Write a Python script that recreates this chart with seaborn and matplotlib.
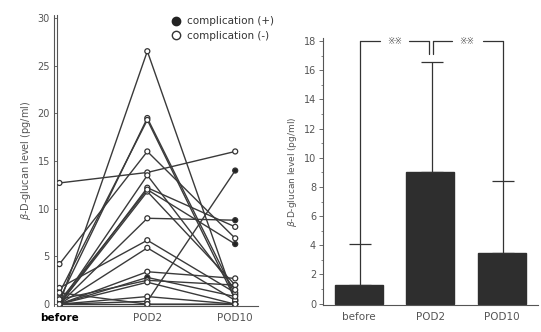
import matplotlib

matplotlib.use("Agg")
import matplotlib.pyplot as plt
import numpy as np
import pandas as pd
import seaborn as sns
from matplotlib.lines import Line2D
from matplotlib.ticker import MultipleLocator

# Individual patients
timepoints = ["before", "POD2", "POD10"]
before = [0.0, 0.5, 1.2, 4.2, 12.7, 0.0, 0.0, 0.3, 0.0, 1.7, 0.0, 0.0, 0.0, 0.5, 0.0, 0.0, 0.0, 0.0, 1.2, 0.0]
pod2 = [26.5, 19.5, 19.3, 16.0, 13.8, 12.2, 11.8, 12.0, 9.0, 6.7, 5.9, 3.4, 2.8, 2.5, 2.3, 0.8, 0.3, 0.0, 0.0, 13.5]
pod10 = [0.3, 1.0, 0.5, 6.9, 16.0, 8.1, 2.0, 6.3, 8.8, 1.2, 0.4, 2.7, 0.8, 2.0, 0.0, 0.0, 14.0, 0.0, 0.0, 1.5]
filled_pod2 = [0, 0, 0, 0, 0, 0, 0, 0, 0, 0, 0, 0, 1, 0, 0, 0, 0, 0, 0, 0]
filled_pod10 = [0, 0, 0, 0, 0, 0, 0, 1, 1, 0, 0, 0, 0, 0, 0, 0, 1, 0, 0, 0]

# Group summary (right panel): mean and upper SD limit
bar_labels = ["before", "POD2", "POD10"]
bar_means = [1.3, 9.0, 3.5]
bar_upper = [4.1, 16.6, 8.4]
sig_text = "※※"

rows = []
for i in range(len(before)):
    for t, vals, fl in zip(timepoints, [before, pod2, pod10], [[0] * len(before), filled_pod2, filled_pod10]):
        rows.append({"subject": i, "time": t, "value": vals[i], "filled": fl[i]})
df = pd.DataFrame(rows)

sns.set_style("ticks")
plt.rcParams["font.family"] = ["DejaVu Sans", "Noto Sans CJK JP"]
grey = "#555555"
dark = "#333333"

fig = plt.figure(figsize=(5.41, 3.32), dpi=100)
ax1 = fig.add_axes([0.105, 0.078, 0.372, 0.877])
ax2 = fig.add_axes([0.597, 0.081, 0.397, 0.804])

# ---- left panel: individual courses
sns.lineplot(data=df, x="time", y="value", units="subject", estimator=None,
             color="#3a3a3a", lw=1.0, ax=ax1, legend=False, sort=False)
sns.scatterplot(data=df, x="time", y="value", hue="filled",
                palette={0: "white", 1: "#222222"}, edgecolor="#333333",
                linewidth=0.9, s=13, zorder=5, ax=ax1, legend=False)
ax1.set_xlim(-0.03, 2.26)
ax1.set_ylim(-0.2, 30.3)
ax1.yaxis.set_major_locator(MultipleLocator(5))
ax1.set_xlabel("")
ax1.set_ylabel(r"$\beta$-D-glucan level (pg/ml)", fontsize=7, color=grey, labelpad=3)
ax1.tick_params(axis="y", labelsize=7, colors=grey, length=2, width=0.6, pad=3)
ax1.tick_params(axis="x", length=0, pad=5)
for lab in ax1.get_xticklabels():
    lab.set_fontsize(7.5)
    lab.set_color(grey)
ax1.get_xticklabels()[0].set_color("black")
ax1.get_xticklabels()[0].set_fontweight("bold")
for s in ["top", "right"]:
    ax1.spines[s].set_visible(False)
ax1.spines["left"].set_color(grey)
ax1.spines["bottom"].set_color(grey)
ax1.spines["left"].set_linewidth(0.8)
ax1.spines["bottom"].set_linewidth(0.8)
# second line of the double y axis
ax1.plot([-0.012, -0.012], [0, 1], transform=ax1.transAxes, color=grey, lw=0.8, clip_on=False)

handles = [
    Line2D([], [], marker="o", ls="", markerfacecolor="#222222", markeredgecolor="#222222", markersize=6),
    Line2D([], [], marker="o", ls="", markerfacecolor="white", markeredgecolor="#333333", markersize=6),
]
ax1.legend(handles, ["complication (+)", "complication (-)"], loc="upper right",
           bbox_to_anchor=(1.1, 1.01), frameon=False, fontsize=7.5,
           handletextpad=0.1, labelspacing=0.45, borderaxespad=0, labelcolor="#333333")

# ---- right panel: mean + SD bars
bar_df = pd.DataFrame({"time": bar_labels, "mean": bar_means, "upper": bar_upper})
sns.barplot(data=bar_df, x="time", y="mean", color="#2e2e2e", width=0.67,
            errorbar=None, ax=ax2, saturation=1, edgecolor="#2e2e2e")
yerr = [np.zeros(3), np.array(bar_upper) - np.array(bar_means)]
ax2.errorbar(np.arange(3) + 0.02, bar_means, yerr=yerr, fmt="none", ecolor=dark,
             elinewidth=0.9, capsize=8, capthick=0.9)
ax2.set_xlim(-0.5, 2.5)
ax2.set_ylim(-0.1, 18.2)
ax2.yaxis.set_major_locator(MultipleLocator(2))
ax2.yaxis.set_minor_locator(MultipleLocator(1))
ax2.set_xlabel("")
ax2.set_ylabel(r"$\beta$-D-glucan level (pg/ml)", fontsize=6.5, color=grey, labelpad=3)
ax2.tick_params(axis="y", which="major", labelsize=7, colors=grey, length=3, width=0.6, pad=2)
ax2.tick_params(axis="y", which="minor", length=1.5, width=0.5, colors=grey)
ax2.tick_params(axis="x", length=0, labelsize=7.5, colors=grey, pad=5)
for s in ["top", "right"]:
    ax2.spines[s].set_visible(False)
ax2.spines["left"].set_color(grey)
ax2.spines["bottom"].set_color(grey)

# significance brackets
top = 18.0
kw = dict(color=dark, lw=0.9, clip_on=False)
x0, x1, x2 = 0.02, 0.98, 1.04
ax2.plot([x0, x0], [bar_upper[0], top], **kw)
ax2.plot([x0, 0.3], [top, top], **kw)
ax2.text(0.5, top, sig_text, ha="center", va="center", fontsize=6.5, color=grey)
ax2.plot([0.7, x1], [top, top], **kw)
ax2.plot([x1, x1], [top, 17.1], **kw)
ax2.plot([x2, x2], [top, 17.1], **kw)
ax2.plot([x2, 1.3], [top, top], **kw)
ax2.text(1.5, top, sig_text, ha="center", va="center", fontsize=6.5, color=grey)
ax2.plot([1.74, 2.02], [top, top], **kw)
ax2.plot([2.02, 2.02], [top, bar_upper[2]], **kw)

fig.savefig("out.png", dpi=100)
